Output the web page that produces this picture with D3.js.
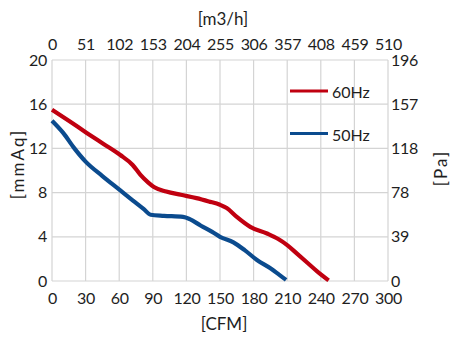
<!DOCTYPE html>
<html>
<head>
<meta charset="utf-8">
<script src="https://cdn.jsdelivr.net/npm/d3@7"></script>
<style>
  html, body { margin: 0; padding: 0; background: #fff; }
  svg { display: block; }
  text { font-family: Lato, "Open Sans", sans-serif; fill: #1e1e1e; }
</style>
</head>
<body>
<script>
// Fan P-Q curves: static pressure [mmAq] against airflow [CFM]
const cfmTicks = [0, 30, 60, 90, 120, 150, 180, 210, 240, 270, 300];
const m3hTicks = ["0", "51", "102", "153", "204", "255", "306", "357", "408", "459", "510"];
const mmAqTicks = [0, 4, 8, 12, 16, 20];
const paTicks = ["0", "39", "78", "118", "157", "196"];

const series60Flow = [0, 15, 31, 46, 61, 72, 79, 86, 91, 102, 115, 129, 140, 150, 156, 165, 177, 192, 202, 210, 219, 228, 237, 247];
const series60Pres = [15.5, 14.5, 13.4, 12.4, 11.4, 10.5, 9.6, 8.9, 8.5, 8.1, 7.8, 7.5, 7.2, 6.9, 6.6, 5.8, 4.9, 4.3, 3.8, 3.25, 2.45, 1.65, 0.85, 0.05];

const series50Flow = [0, 10, 20, 30, 45, 61, 72, 82, 88, 100, 117, 123, 133, 143, 150, 162, 172, 183, 195, 203, 209];
const series50Pres = [14.5, 13.4, 12.0, 10.8, 9.5, 8.2, 7.3, 6.5, 6.0, 5.9, 5.8, 5.6, 5.0, 4.45, 4.0, 3.5, 2.8, 1.9, 1.15, 0.55, 0.1];

const legendNames = ["60Hz", "50Hz"];
const colors = ["#c00010", "#0b4b8e"];

const W = 450, H = 340;
const m = { left: 52, right: 62, top: 60, bottom: 59 };

const svg = d3.select("body").append("svg").attr("width", W).attr("height", H);

const x = d3.scaleLinear().domain([0, 300]).range([m.left, W - m.right]);
const y = d3.scaleLinear().domain([0, 20]).range([H - m.bottom, m.top]);
const xTop = d3.scalePoint().domain(m3hTicks).range([m.left, W - m.right]);
const yRight = d3.scalePoint().domain(paTicks).range([H - m.bottom, m.top]);

// grid
const grid = svg.append("g").attr("stroke", "#d4d4d4").attr("stroke-width", 1.2);
grid.selectAll("line.v").data(cfmTicks).join("line")
  .attr("x1", d => x(d)).attr("x2", d => x(d))
  .attr("y1", y(0)).attr("y2", y(20));
grid.selectAll("line.h").data(mmAqTicks).join("line")
  .attr("x1", x(0)).attr("x2", x(300))
  .attr("y1", d => y(d)).attr("y2", d => y(d));

const fs = 16;
function styleAxis(g) {
  g.select(".domain").remove();
  g.selectAll(".tick line").remove();
  g.selectAll(".tick text").attr("font-size", fs).attr("font-family", null)
    .attr("fill", "#1e1e1e").attr("letter-spacing", -0.3);
}

svg.append("g").attr("transform", `translate(0,${y(0)})`)
  .call(d3.axisBottom(x).tickValues(cfmTicks).tickSize(0).tickPadding(12))
  .call(styleAxis);
svg.append("g").attr("transform", `translate(0,${y(20)})`)
  .call(d3.axisTop(xTop).tickSize(0).tickPadding(10))
  .call(styleAxis);
svg.append("g").attr("transform", `translate(${x(0)},0)`)
  .call(d3.axisLeft(y).tickValues(mmAqTicks).tickSize(0).tickPadding(5))
  .call(styleAxis);
svg.append("g").attr("transform", `translate(${x(300)},0)`)
  .call(d3.axisRight(yRight).tickSize(0).tickPadding(3))
  .call(styleAxis);

// axis titles
svg.append("text").attr("x", 223).attr("y", 25).attr("text-anchor", "middle")
  .attr("font-size", 17).text("[m3/h]");
svg.append("text").attr("x", 224).attr("y", 330).attr("text-anchor", "middle")
  .attr("font-size", 17).text("[CFM]");
svg.append("text").attr("transform", "translate(24,164) rotate(-90)").attr("text-anchor", "middle")
  .attr("font-size", 17).attr("letter-spacing", 2).text("[mmAq]");
svg.append("text").attr("transform", "translate(447,168) rotate(-90)").attr("text-anchor", "middle")
  .attr("font-size", 17).attr("letter-spacing", 2).text("[Pa]");

// curves
const line = d3.line().x(d => x(d[0])).y(d => y(d[1])).curve(d3.curveMonotoneX);
const curves = [
  d3.zip(series60Flow, series60Pres),
  d3.zip(series50Flow, series50Pres)
];
svg.selectAll("path.curve").data(curves).join("path")
  .attr("class", "curve")
  .attr("fill", "none")
  .attr("stroke", (d, i) => colors[i])
  .attr("stroke-width", 4.2)
  .attr("stroke-linejoin", "round")
  .attr("d", line);

// legend
const lg = svg.append("g");
const ly = [91, 133.5];
legendNames.forEach((name, i) => {
  lg.append("line").attr("x1", 290).attr("x2", 328).attr("y1", ly[i]).attr("y2", ly[i])
    .attr("stroke", colors[i]).attr("stroke-width", 3);
  lg.append("text").attr("x", 332).attr("y", ly[i] + 7).attr("font-size", fs).text(name);
});
</script>
</body>
</html>
